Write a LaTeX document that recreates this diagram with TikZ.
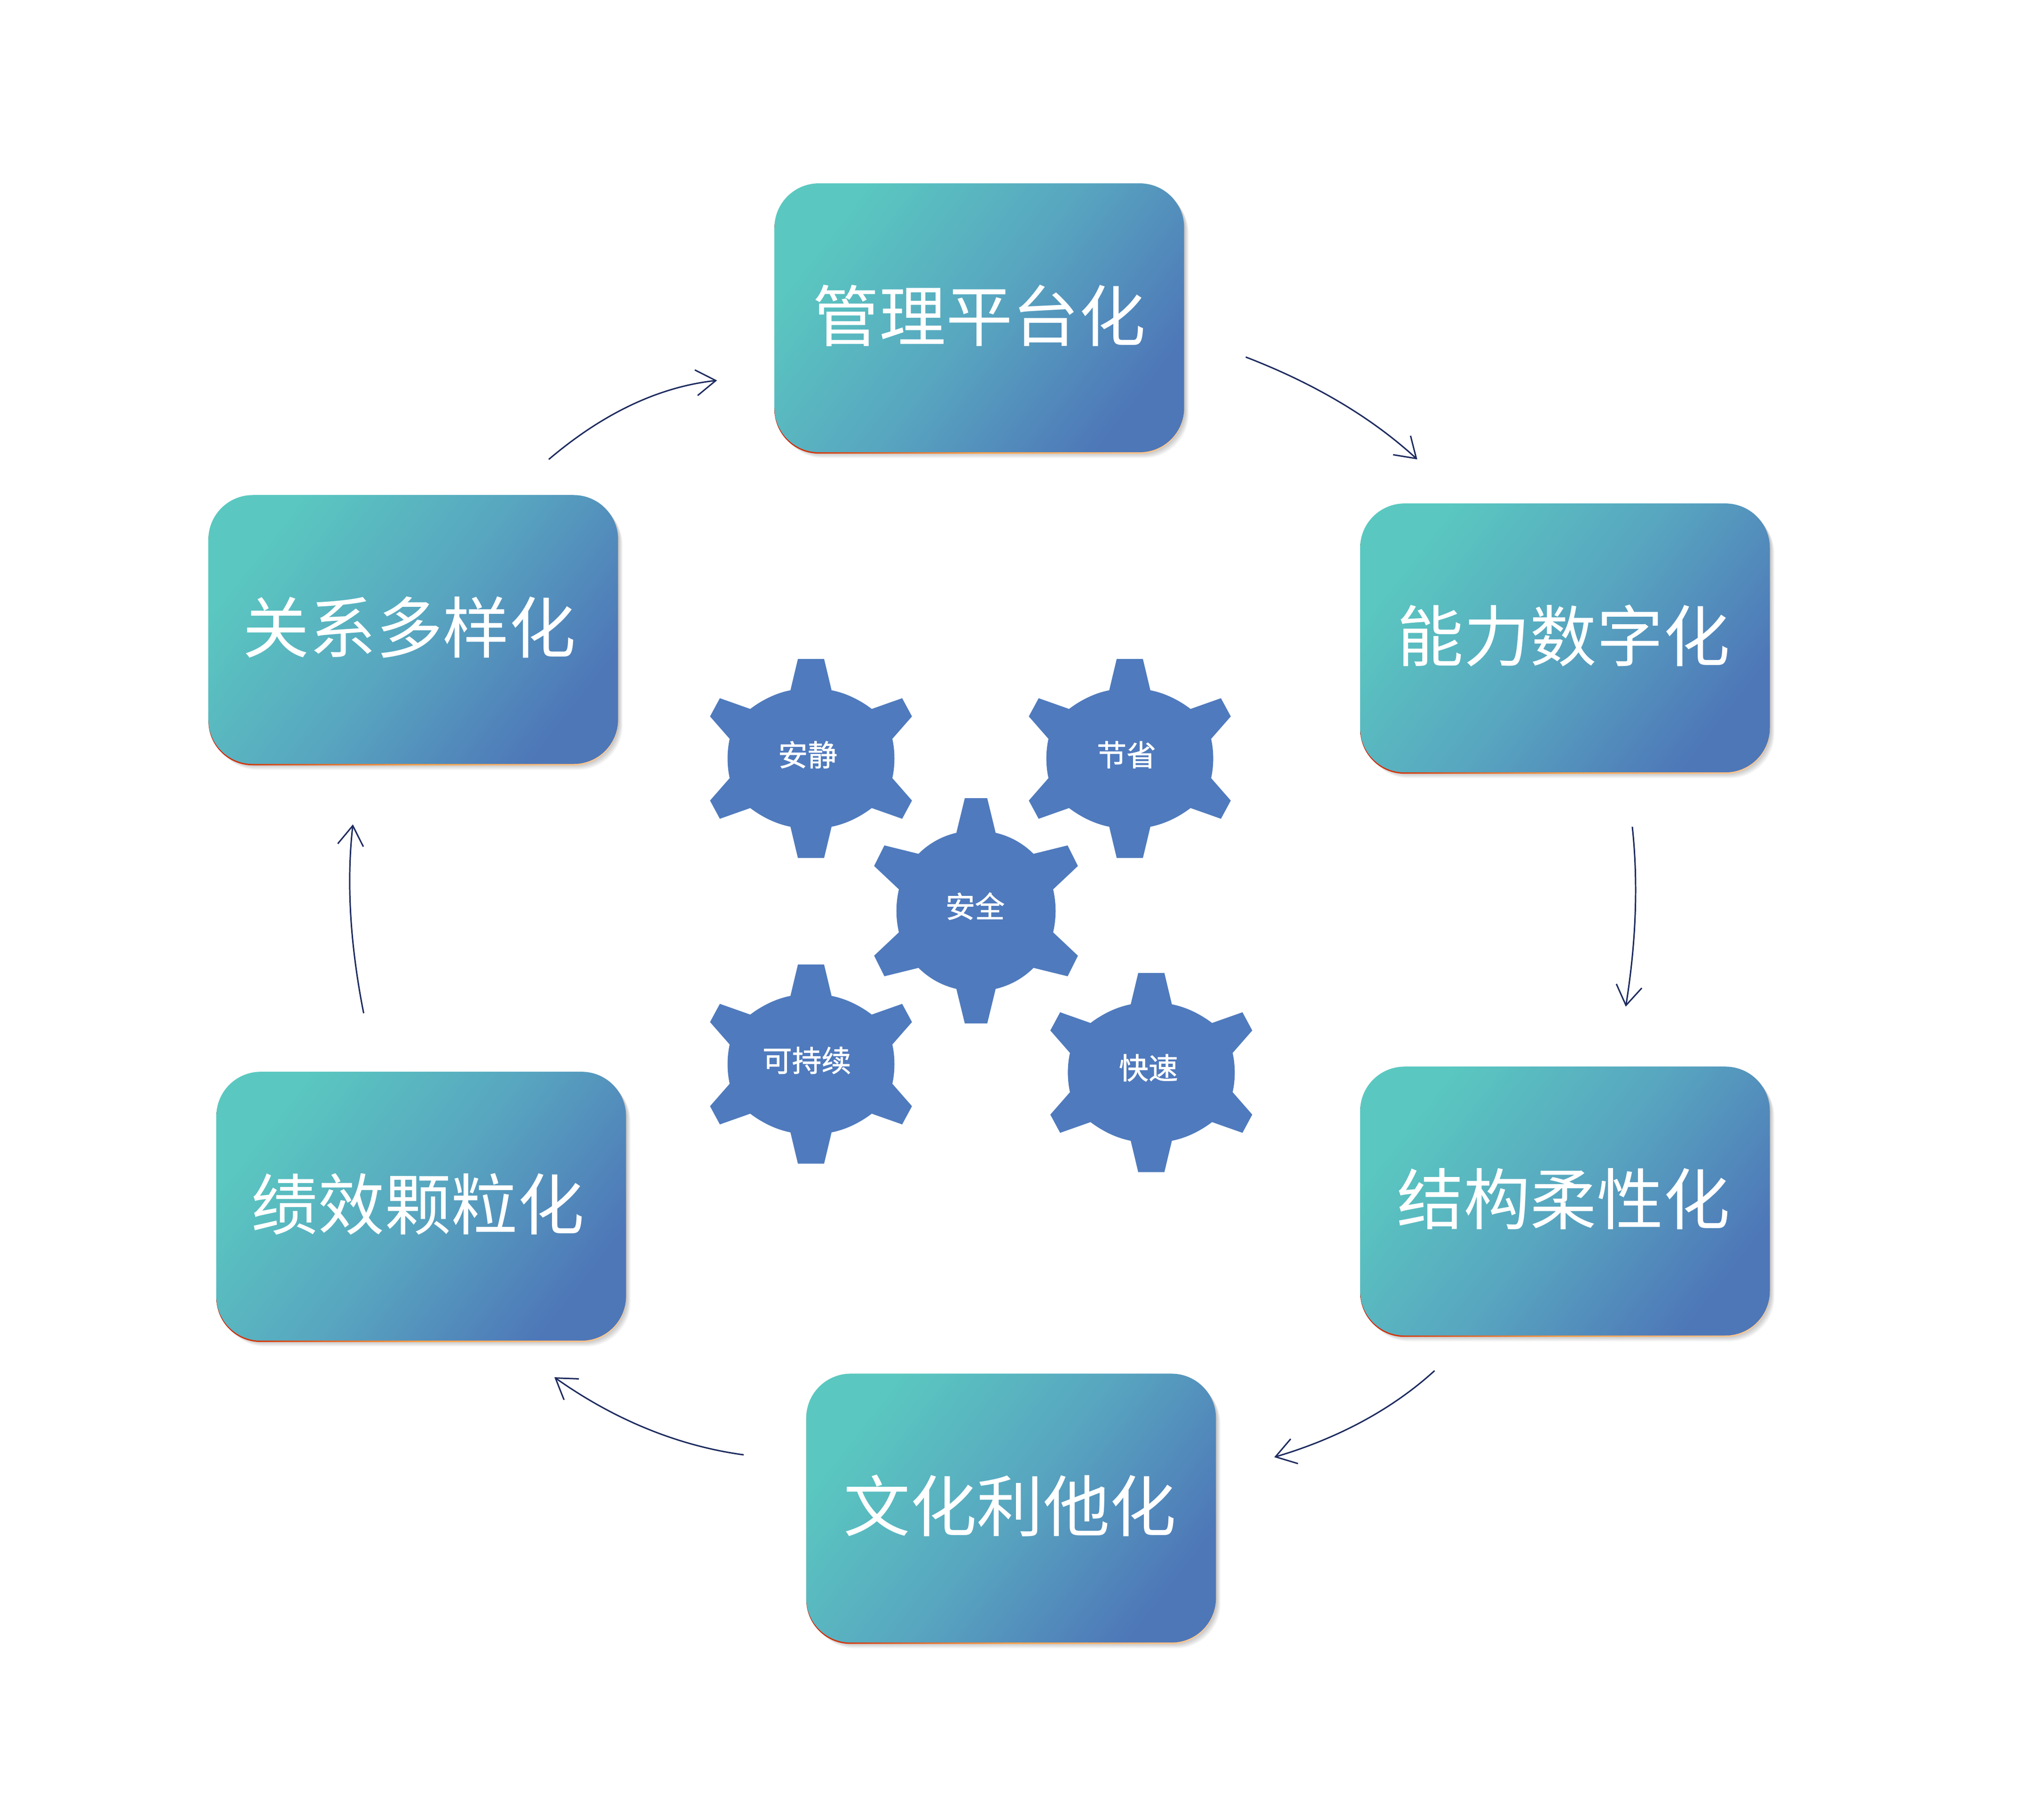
\documentclass[tikz,border=0pt]{standalone}
\usepackage{fontspec}
\newfontfamily\cjk{Noto Sans CJK SC}
\newfontfamily\cjkb[FakeBold=1.2]{Noto Sans CJK SC}
\usetikzlibrary{arrows.meta}
\definecolor{teal1}{HTML}{5AC8C0}
\definecolor{mid1}{HTML}{58A6C0}
\definecolor{blue1}{HTML}{4E77B8}
\definecolor{gearblue}{HTML}{4F7ABD}
\definecolor{arrowink}{HTML}{1C2A5E}
\tikzset{
  x=0.01cm,y=-0.01cm,
  card/.style={rectangle,rounded corners=0.95cm,minimum width=8.76cm,minimum height=5.75cm,inner sep=0pt,
    top color=teal1,bottom color=blue1,middle color=mid1,shading angle=52},
  cardlabel/.style={text=white,inner sep=0pt,font=\cjk\fontsize{40.5}{40.5}\selectfont},
  cardedge/.style={rectangle,rounded corners=0.95cm,minimum width=8.76cm,minimum height=5.75cm,inner sep=0pt,
    left color=red!70!orange!80!black,right color=orange!40,middle color=orange!75},
  cardshadow/.style={rectangle,rounded corners=0.95cm,minimum width=8.76cm,minimum height=5.75cm,inner sep=0pt,
    fill=black,fill opacity=0.035},
  geartext/.style={text=white,inner sep=0pt,font=\cjkb\fontsize{18}{18}\selectfont},
  flow/.style={draw=arrowink,line width=0.85pt,-{Straight Barb[length=0.42cm,width=0.55cm,line width=0.85pt]}},
  small gear/.pic={\fill[gearblue]
    (-28,-213)--(28,-213)--(44,-146) .. controls (75,-140) and (105,-125) .. (130,-106)
    --(195,-129)--(216,-90)--(174,-42) .. controls (180,-15) and (180,15) .. (174,42)
    --(216,90)--(195,129)--(130,106) .. controls (105,125) and (75,140) .. (44,146)
    --(28,213)--(-28,213)--(-44,146) .. controls (-75,140) and (-105,125) .. (-130,106)
    --(-195,129)--(-216,90)--(-174,42) .. controls (-180,15) and (-180,-15) .. (-174,-42)
    --(-216,-90)--(-195,-129)--(-130,-106) .. controls (-105,-125) and (-75,-140) .. (-44,-146)
    --cycle;},
  big gear/.pic={\fill[gearblue]
    (-24,-241)--(24,-241)--(42,-167) .. controls (72,-160) and (100,-145) .. (123,-122)
    --(196,-140)--(218,-96)--(165,-46) .. controls (172,-15) and (172,15) .. (165,46)
    --(218,96)--(196,140)--(123,122) .. controls (100,145) and (72,160) .. (42,167)
    --(24,241)--(-24,241)--(-42,167) .. controls (-72,160) and (-100,145) .. (-123,122)
    --(-196,140)--(-218,96)--(-165,46) .. controls (-172,15) and (-172,-15) .. (-165,-46)
    --(-218,-96)--(-196,-140)--(-123,-122) .. controls (-100,-145) and (-72,-160) .. (-42,-167)
    --cycle;},
}
% name, x, y, text, label shift in x
\newcommand{\cardat}[5]{%
  \foreach \d in {2,4,...,14}{\node[cardshadow] at ({#2+\d*0.7},{#3+\d*0.9}) {};}
  \node[cardedge] at (#2,{#3+3}) {};
  \node[card] (#1) at (#2,#3) {};
  \node[cardlabel] (#1label) at ({#2+#5},{#3-5}) {#4};
}
\begin{document}
\begin{tikzpicture}
\useasboundingbox (0,0) rectangle (4345,3894);
\fill[white] (0,0) rectangle (4345,3894);

\cardat{top}{2095}{680}{管理平台化}{0}
\cardat{right}{3348}{1365}{能力数字化}{-3}
\cardat{rightlow}{3348}{2570}{结构柔性化}{-3}
\cardat{bottom}{2163}{3227}{文化利他化}{-2}
\cardat{leftlow}{901}{2581}{绩效颗粒化}{-7}
\cardat{left}{884}{1347}{关系多样化}{-8}

\pic at (1735,1623) {small gear};
\pic at (2417,1623) {small gear};
\pic at (2088,1949) {big gear};
\pic at (1735,2277) {small gear};
\pic at (2463,2295) {small gear};
\node[geartext] (anjing) at (1728,1615) {安静};
\node[geartext] (jiesheng) at (2410,1615) {节省};
\node[geartext] (anquan) at (2086,1939) {安全};
\node[geartext] (kechixu) at (1726,2269) {可持续};
\node[geartext] (kuaisu) at (2457,2285) {快速};

\coordinate (a1s) at (2665,764);  \coordinate (a1e) at (3032,983);
\coordinate (a2s) at (3492,1769); \coordinate (a2e) at (3478,2154);
\coordinate (a3s) at (3069,2933); \coordinate (a3e) at (2726,3118);
\coordinate (a4s) at (1591,3113); \coordinate (a4e) at (1186,2947);
\coordinate (a5s) at (778,2168);  \coordinate (a5e) at (755,1764);
\coordinate (a6s) at (1174,983);  \coordinate (a6e) at (1534,814);
\draw[flow] (a1s) .. controls (2813,821) and (2935,894) .. (a1e);
\draw[flow] (a2s) .. controls (3505,1889) and (3500,2017) .. (a2e);
\draw[flow] (a3s) .. controls (2969,3024) and (2848,3082) .. (a3e);
\draw[flow] (a4s) .. controls (1452,3094) and (1316,3039) .. (a4e);
\draw[flow] (a5s) .. controls (749,2022) and (741,1887) .. (a5e);
\draw[flow] (a6s) .. controls (1280,893) and (1399,829) .. (a6e);
\end{tikzpicture}
\end{document}
